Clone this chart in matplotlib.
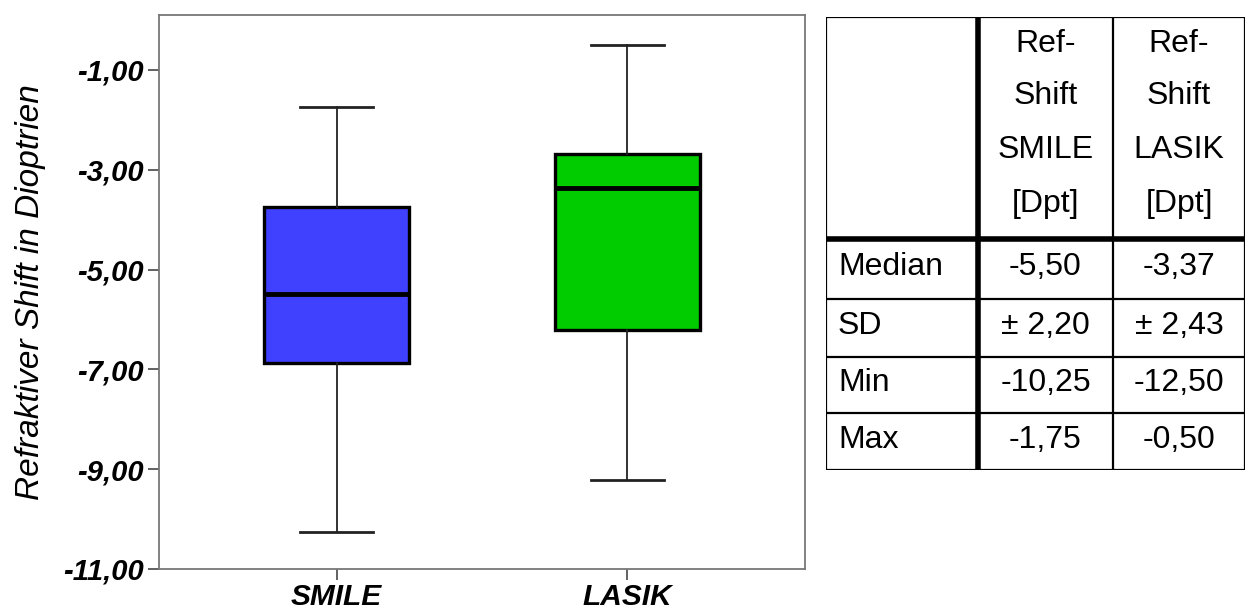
import matplotlib
matplotlib.use("Agg")
import matplotlib.pyplot as plt
from matplotlib.lines import Line2D

plt.rcParams['font.family'] = ['Liberation Sans', 'DejaVu Sans']

# ---- data ----
groups = ["SMILE", "LASIK"]
q1 = [-6.88, -6.22]
medians = [-5.50, -3.37]
q3 = [-3.75, -2.68]
whisk_lo = [-10.25, -9.22]
whisk_hi = [-1.75, -0.50]
box_colors = ["#4040FF", "#00CC00"]
yticks = [-1, -3, -5, -7, -9, -11]
ytick_labels = ["-1,00", "-3,00", "-5,00", "-7,00", "-9,00", "-11,00"]
ylabel = "Refraktiver Shift in Dioptrien"

table_header = ["Ref-\nShift\nSMILE\n[Dpt]", "Ref-\nShift\nLASIK\n[Dpt]"]
row_labels = ["Median", "SD", "Min", "Max"]
smile_vals = ["-5,50", "± 2,20", "-10,25", "-1,75"]
lasik_vals = ["-3,37", "± 2,43", "-12,50", "-0,50"]

W, H = 1249, 610
fig = plt.figure(figsize=(W / 100, H / 100), dpi=100)

# ---- box plot ----
ax = fig.add_axes([159 / W, 1 - 569 / H, 646 / W, 554 / H])
stats = []
for i, g in enumerate(groups):
    stats.append(dict(label=g, med=medians[i], q1=q1[i], q3=q3[i],
                      whislo=whisk_lo[i], whishi=whisk_hi[i], fliers=[]))
bp = ax.bxp(stats, positions=[1, 2], widths=0.5, patch_artist=True,
            showfliers=False,
            boxprops=dict(linewidth=2.4, edgecolor='black'),
            medianprops=dict(color='black', linewidth=3.5),
            whiskerprops=dict(color='#222222', linewidth=1.3),
            capprops=dict(color='#222222', linewidth=2.0),
            capwidths=0.25)
for patch, c in zip(bp['boxes'], box_colors):
    patch.set_facecolor(c)

ax.set_xlim(0.39, 2.61)
ax.set_ylim(-11, 0.10)
ax.set_yticks(yticks)
ax.set_yticklabels(ytick_labels, fontsize=21, fontweight='bold', fontstyle='italic')
ax.set_xticks([1, 2])
ax.set_xticklabels(groups, fontsize=21.5, fontweight='bold', fontstyle='italic')
ax.tick_params(axis='both', length=8, width=1.3, color='#555555', pad=3)
ax.tick_params(axis='x', pad=2)
for s in ax.spines.values():
    s.set_color('#777777')
    s.set_linewidth(1.3)
ax.set_ylabel(ylabel, fontsize=24, fontstyle='italic', labelpad=12)

# ---- table ----
tx0, ty0, tw, th = 826, 17, 419, 453
tab = fig.add_axes([tx0 / W, 1 - (ty0 + th) / H, tw / W, th / H])
tab.set_xlim(0, tw)
tab.set_ylim(th, 0)
tab.axis('off')

col_edges = [0, 152, 287, 419]
row_edges = [0, 222, 282, 340, 396, 453]
thin = 1.6
thick = 4.0
for j, x in enumerate(col_edges):
    lw = thick if j == 1 else thin
    tab.add_line(Line2D([x, x], [0, th], color='black', linewidth=lw,
                        solid_capstyle='projecting'))
for k, y in enumerate(row_edges):
    lw = thick if k == 1 else thin
    tab.add_line(Line2D([0, tw], [y, y], color='black', linewidth=lw,
                        solid_capstyle='projecting'))

fs = 23
col_centers = [(col_edges[1] + col_edges[2]) / 2, (col_edges[2] + col_edges[3]) / 2]
header_line_y = [27, 79, 133, 187]
for ci, htxt in enumerate(table_header):
    for li, line in enumerate(htxt.split("\n")):
        tab.text(col_centers[ci], header_line_y[li], line, ha='center', va='center',
                 fontsize=fs)

for ri, lab in enumerate(row_labels):
    yc = (row_edges[ri + 1] + row_edges[ri + 2]) / 2 - 2
    tab.text(12, yc, lab, ha='left', va='center', fontsize=fs)
    tab.text(col_centers[0], yc, smile_vals[ri], ha='center', va='center', fontsize=fs)
    tab.text(col_centers[1], yc, lasik_vals[ri], ha='center', va='center', fontsize=fs)

fig.savefig("out.png", dpi=100)
